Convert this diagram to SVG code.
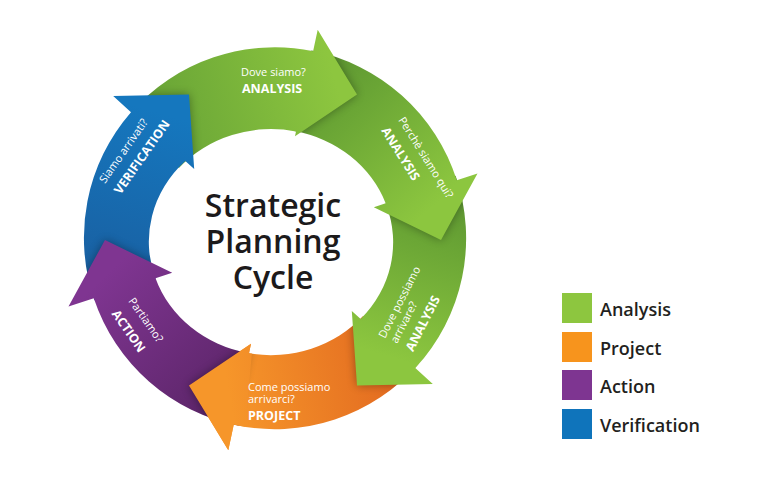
<svg xmlns="http://www.w3.org/2000/svg" xmlns:xlink="http://www.w3.org/1999/xlink" width="768" height="478" viewBox="0 0 768 478">
<style>
.q{font-family:"Open Sans","Liberation Sans",sans-serif;font-size:11px;fill:#fff}
.t{font-family:"Open Sans","Liberation Sans",sans-serif;font-weight:700;font-size:12.5px;fill:#fff}
.title{font-family:"Open Sans","Liberation Sans",sans-serif;font-weight:600;font-size:32px;fill:#1c1a1b;text-anchor:middle}
.leg{font-family:"Open Sans","Liberation Sans",sans-serif;font-weight:600;font-size:18px;fill:#231f20}
.sh{fill:#000;opacity:.35;filter:url(#blur);clip-path:url(#ring)}
</style>
<defs>
<filter id="blur" x="-30%" y="-30%" width="160%" height="160%"><feGaussianBlur stdDeviation="5"/></filter>
<clipPath id="ring"><path clip-rule="evenodd" d="M84 238a191 191 0 1 0 382 0a191 191 0 1 0 -382 0ZM149 242a122 113 0 1 0 244 0a122 113 0 1 0 -244 0Z"/></clipPath>
<linearGradient id="gG1" gradientUnits="userSpaceOnUse" x1="130" y1="115" x2="330" y2="60"><stop offset="0" stop-color="#64a035"/><stop offset="1" stop-color="#8dc63f"/></linearGradient>
<linearGradient id="gG2" gradientUnits="userSpaceOnUse" x1="310" y1="55" x2="440" y2="200"><stop offset="0" stop-color="#5a9231"/><stop offset=".35" stop-color="#6aa535"/><stop offset="1" stop-color="#8cc63f"/></linearGradient>
<linearGradient id="gG3" gradientUnits="userSpaceOnUse" x1="455" y1="180" x2="400" y2="360"><stop offset="0" stop-color="#5a9231"/><stop offset=".35" stop-color="#6aa535"/><stop offset="1" stop-color="#8cc63f"/></linearGradient>
<linearGradient id="gO" gradientUnits="userSpaceOnUse" x1="420" y1="365" x2="230" y2="400"><stop offset="0" stop-color="#e0641f"/><stop offset="1" stop-color="#f6962a"/></linearGradient>
<linearGradient id="gP" gradientUnits="userSpaceOnUse" x1="237" y1="427" x2="100" y2="280"><stop offset="0" stop-color="#572363"/><stop offset="1" stop-color="#7f3591"/></linearGradient>
<linearGradient id="gB" gradientUnits="userSpaceOnUse" x1="92" y1="302" x2="150" y2="110"><stop offset="0" stop-color="#1a5c9d"/><stop offset="1" stop-color="#1577be"/></linearGradient>
<path id="hG1" d="M317.7 29.7L357 94.5L295 136.3Z"/>
<path id="hG2" d="M477.5 173.6L441 240L373.8 207.2Z"/>
<path id="hG3" d="M432.8 383.9L357 385.5L351.8 310.9Z"/>
<path id="hO" d="M228.3 450.3L189 385.5L251 343.7Z"/>
<path id="hP" d="M68.5 306.4L105 240L172.2 272.8Z"/>
<path id="hB" d="M113.2 96.1L189 94.5L194.2 169.1Z"/>
</defs>
<rect width="768" height="478" fill="#fff"/>

<g id="project">
<path fill="url(#gO)" d="M419.1 363.3A191 191 0 0 1 233.7 424.7L228.3 450.3L189 385.5L251 343.7L249 353.3A122 113 0 0 0 363.1 316.1Z"/>
</g>
<use xlink:href="#hG3" class="sh"/>
<g id="analysis3">
<path fill="url(#gG3)" d="M455.6 175.8A191 191 0 0 1 415.3 368.1L432.8 383.9L357 385.5L351.8 310.9L360.7 319A122 113 0 0 0 386.4 205.2Z"/>
</g>
<use xlink:href="#hG2" class="sh"/>
<g id="analysis2">
<path fill="url(#gG2)" d="M311.4 50.5A191 191 0 0 1 456.8 180.3L477.5 173.6L441 240L373.8 207.2L385.7 203.3A122 113 0 0 0 294.3 131.1Z"/>
</g>
<use xlink:href="#hG1" class="sh"/>
<g id="analysis1">
<path fill="url(#gG1)" d="M130.9 112.7A191 191 0 0 1 313.1 51.2L317.7 29.7L357 94.5L295 136.3L296 131.5A122 113 0 0 0 178.9 167.9Z"/>
</g>
<use xlink:href="#hB" class="sh"/>
<g id="verification">
<path fill="url(#gB)" d="M94.4 300.2A191 191 0 0 1 131 112.2L113.2 96.1L189 94.5L194.2 169.1L185.3 161.1A122 113 0 0 0 155.6 278.8Z"/>
</g>
<use xlink:href="#hP" class="sh"/>
<g id="action">
<path fill="url(#gP)" d="M238.6 425.5A191 191 0 0 1 93.8 298.2L68.5 306.4L105 240L172.2 272.8L155.5 278.2A122 113 0 0 0 247.7 352.9Z"/>
</g>
<use xlink:href="#hO" class="sh"/>
<g id="project-head">
<path fill="url(#gO)" d="M245.1 426.7A191 191 0 0 1 233.7 424.7L228.3 450.3L189 385.5L251 343.7L249 353.3A122 113 0 0 0 251.9 353.6Z"/>
</g>

<g id="labels">
<g transform="translate(241,76)"><text class="q">Dove siamo?</text><text class="t" x="1" y="17">ANALYSIS</text></g>
<g transform="translate(398,120) rotate(58)"><text class="q">Perchè siamo qui?</text><text class="t" x="0" y="20">ANALYSIS</text></g>
<g transform="translate(385,339) rotate(-63)"><text class="q">Dove possiamo</text><text class="q" x="1" y="13">arrivare?</text><text class="t" x="1" y="31">ANALYSIS</text></g>
<g transform="translate(248,391)"><text class="q">Come possiamo</text><text class="q" y="12">arrivarci?</text><text class="t" y="29">PROJECT</text></g>
<g transform="translate(128,301) rotate(55)"><text class="q">Partiamo?</text><text class="t" x="1" y="21">ACTION</text></g>
<g transform="translate(105,184) rotate(-55)"><text class="q">Siamo arrivati?</text><text class="t" y="19">VERIFICATION</text></g>
</g>

<g id="title">
<text class="title" x="273" y="217">Strategic</text>
<text class="title" x="273" y="253">Planning</text>
<text class="title" x="273" y="289">Cycle</text>
</g>

<g id="legend">
<g id="leg-analysis"><rect x="562" y="293" width="30" height="30" fill="#8dc63f"/><text class="leg" x="600" y="316">Analysis</text></g>
<g id="leg-project"><rect x="562" y="332" width="30" height="30" fill="#f7941d"/><text class="leg" x="600" y="355">Project</text></g>
<g id="leg-action"><rect x="562" y="370" width="30" height="30" fill="#7e3591"/><text class="leg" x="600" y="393">Action</text></g>
<g id="leg-verification"><rect x="562" y="409" width="30" height="30" fill="#0f74bb"/><text class="leg" x="600" y="432">Verification</text></g>
</g>
</svg>
